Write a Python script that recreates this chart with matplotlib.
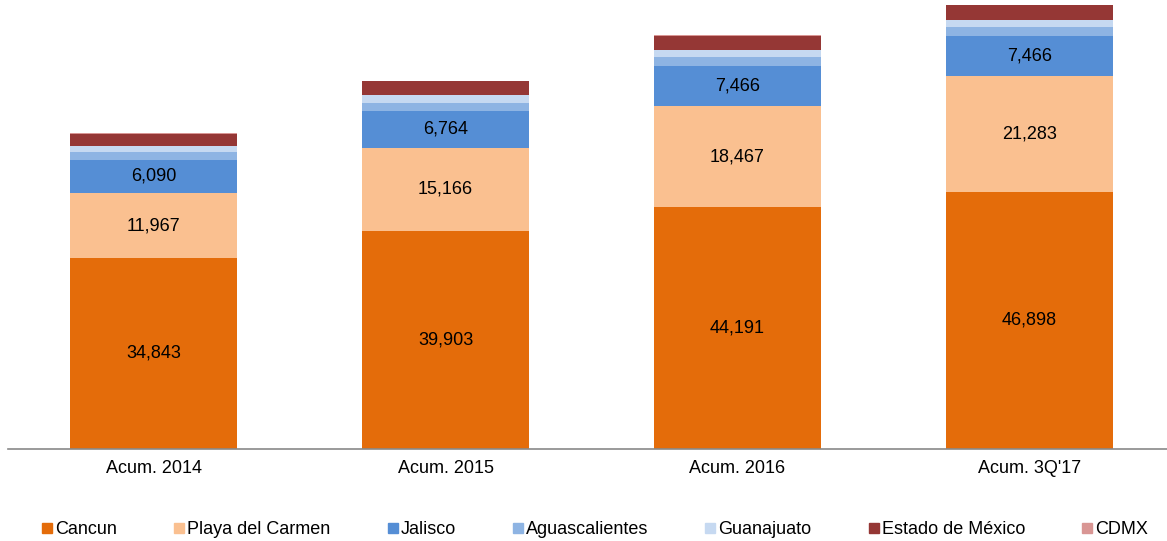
import numpy as np
import matplotlib
matplotlib.use("Agg")
import matplotlib.pyplot as plt
from matplotlib.lines import Line2D

plt.rcParams['font.family'] = ['Liberation Sans', 'DejaVu Sans']

periods = ['Acum. 2014', 'Acum. 2015', 'Acum. 2016', "Acum. 3Q'17"]
series = ['Cancun', 'Playa del Carmen', 'Jalisco', 'Aguascalientes',
          'Guanajuato', 'Estado de México', 'CDMX']

cancun = [34843, 39903, 44191, 46898]
playa = [11967, 15166, 18467, 21283]
jalisco = [6090, 6764, 7466, 7466]
aguascalientes = [1470, 1470, 1650, 1650]
guanajuato = [1100, 1470, 1280, 1280]
edomex = [2180, 2560, 2580, 2600]
cdmx = [60, 80, 80, 80]

colors = ['#E46C0A', '#FAC090', '#558ED5', '#8EB4E3',
          '#C6D9F1', '#953735', '#D99694']
labelled = {'Cancun', 'Playa del Carmen', 'Jalisco'}

values = [cancun, playa, jalisco, aguascalientes, guanajuato, edomex, cdmx]

fig = plt.figure(figsize=(11.67, 5.41), dpi=100)
ax = fig.add_axes([7.5 / 1167, 92.5 / 541, 1 - 7.5 / 1167, 1 - 92.5 / 541])

x = np.arange(len(periods))
bottom = np.zeros(len(periods))
for name, vals, col in zip(series, values, colors):
    vals = np.array(vals, dtype=float)
    ax.bar(x, vals, width=0.572, bottom=bottom, color=col, linewidth=0)
    if name in labelled:
        for xi, b, v in zip(x, bottom, vals):
            ax.text(xi, b + v / 2, f'{int(v):,}', ha='center', va='center',
                    fontsize=13, color='black')
    bottom += vals

ax.set_xlim(-0.5, (1167 - 153.5) / 292)
ax.set_ylim(0, 82160)
ax.set_xticks(x)
ax.set_xticklabels(periods, fontsize=13)
ax.tick_params(axis='x', length=0, pad=8)
ax.set_yticks([])
for side in ['top', 'right', 'left']:
    ax.spines[side].set_visible(False)
ax.spines['bottom'].set_color('#898989')
ax.spines['bottom'].set_linewidth(1.2)

handles = [Line2D([], [], linestyle='none', marker='s', markersize=7,
                  markerfacecolor=c, markeredgecolor=c) for c in colors]
fig.legend(handles, series, loc='center', ncol=7, frameon=False,
           bbox_to_anchor=(595 / 1167, 11 / 541), fontsize=13,
           handlelength=0.6, handletextpad=0.15, columnspacing=3.13)

fig.savefig('out.png', dpi=100)
